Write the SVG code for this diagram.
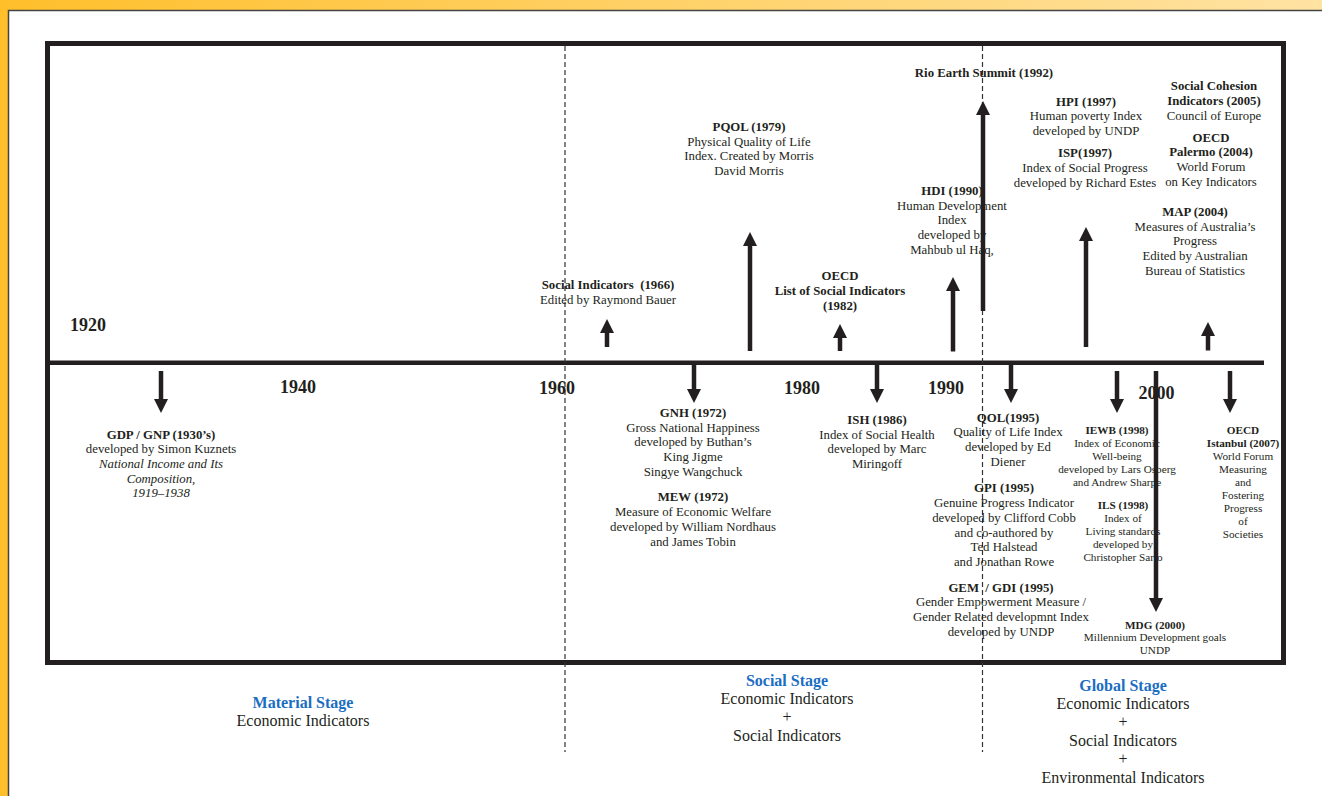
<svg xmlns="http://www.w3.org/2000/svg" width="1322" height="796" viewBox="0 0 1322 796">
<defs>
<linearGradient id="topg" x1="0" y1="0" x2="1" y2="0">
<stop offset="0" stop-color="#FFBF2B"/>
<stop offset="1" stop-color="#FFE3A3"/>
</linearGradient>
<marker id="ah" markerUnits="userSpaceOnUse" markerWidth="14" markerHeight="14" viewBox="0 0 14 14" refX="0" refY="7" orient="auto">
<path d="M0,0 L14,7 L0,14 z" fill="#231f20"/>
</marker>
<style>
.t{font-family:"Liberation Serif","Times New Roman",serif;font-size:12.8px;fill:#231f20;text-anchor:middle}
.b{font-weight:bold}
.s{font-size:11.2px}
.i{font-style:italic}
.yr{font-size:18px;font-weight:bold}
.st{font-size:16px}
.blue{fill:#1b6ec2;font-weight:bold}
.ar{stroke:#231f20;stroke-width:4.5;fill:none;marker-end:url(#ah)}
.dash{stroke:#333;stroke-width:1.2;stroke-dasharray:5 3;fill:none}
</style>
</defs>
<rect x="0" y="0" width="1322" height="796" fill="#ffffff"/>
<rect x="0" y="0" width="1322" height="10" fill="url(#topg)"/>
<rect x="0" y="0" width="8" height="796" fill="#FFBF2B"/>
<path d="M8.5,796 V10.5 H1322" fill="none" stroke="#444" stroke-width="1.5"/>

<g id="frame">
<rect x="47.5" y="43.5" width="1236" height="619" fill="none" stroke="#231f20" stroke-width="5"/>
<line x1="47" y1="362.8" x2="1264" y2="362.8" stroke="#231f20" stroke-width="4.6"/>
<line class="dash" x1="565" y1="46" x2="565" y2="752"/>
<line class="dash" x1="982.5" y1="46" x2="982.5" y2="752"/>
</g>

<g id="years">
<text class="t yr" x="88" y="331">1920</text>
<text class="t yr" x="298" y="393">1940</text>
<text class="t yr" x="557" y="394">1960</text>
<text class="t yr" x="802" y="394">1980</text>
<text class="t yr" x="946" y="394">1990</text>
<text class="t yr" x="1156.5" y="399">2000</text>
</g>

<g id="gdp">
<text class="t b" x="161" y="439">GDP / GNP (1930’s)</text>
<text class="t" x="161" y="453">developed by Simon Kuznets</text>
<text class="t i" x="161" y="468">National Income and Its</text>
<text class="t i" x="161" y="483">Composition,</text>
<text class="t i" x="161" y="497">1919–1938</text>
</g>

<g id="social-indicators-1966">
<text class="t b" x="608" y="289">Social Indicators&#160; (1966)</text>
<text class="t" x="608" y="304">Edited by Raymond Bauer</text>
</g>

<g id="pqol">
<text class="t b" x="749" y="131">PQOL (1979)</text>
<text class="t" x="749" y="146">Physical Quality of Life</text>
<text class="t" x="749" y="160">Index. Created by Morris</text>
<text class="t" x="749" y="175">David Morris</text>
</g>

<g id="oecd-1982">
<text class="t b" x="840" y="280">OECD</text>
<text class="t b" x="840" y="295">List of Social Indicators</text>
<text class="t b" x="840" y="310">(1982)</text>
</g>

<g id="rio">
<text class="t b" x="984" y="77">Rio Earth Summit (1992)</text>
</g>

<g id="hdi">
<text class="t b" x="952" y="195">HDI (1990)</text>
<text class="t" x="952" y="209.5">Human Development</text>
<text class="t" x="952" y="224">Index</text>
<text class="t" x="952" y="239">developed by</text>
<text class="t" x="952" y="254">Mahbub ul Haq,</text>
</g>

<g id="hpi-isp">
<text class="t b" x="1086" y="106">HPI (1997)</text>
<text class="t" x="1086" y="120">Human poverty Index</text>
<text class="t" x="1086" y="135">developed by UNDP</text>
<text class="t b" x="1085" y="157">ISP(1997)</text>
<text class="t" x="1085" y="172">Index of Social Progress</text>
<text class="t" x="1085" y="187">developed by Richard Estes</text>
</g>

<g id="social-cohesion">
<text class="t b" x="1214" y="90">Social Cohesion</text>
<text class="t b" x="1214" y="105">Indicators (2005)</text>
<text class="t" x="1214" y="120">Council of Europe</text>
</g>

<g id="oecd-palermo">
<text class="t b" x="1211" y="142">OECD</text>
<text class="t b" x="1211" y="156">Palermo (2004)</text>
<text class="t" x="1211" y="171">World Forum</text>
<text class="t" x="1211" y="186">on Key Indicators</text>
</g>

<g id="map">
<text class="t b" x="1195" y="216">MAP (2004)</text>
<text class="t" x="1195" y="231">Measures of Australia’s</text>
<text class="t" x="1195" y="245">Progress</text>
<text class="t" x="1195" y="260">Edited by Australian</text>
<text class="t" x="1195" y="275">Bureau of Statistics</text>
</g>

<g id="gnh-mew">
<text class="t b" x="693" y="417">GNH (1972)</text>
<text class="t" x="693" y="432">Gross National Happiness</text>
<text class="t" x="693" y="446">developed by Buthan’s</text>
<text class="t" x="693" y="461">King Jigme</text>
<text class="t" x="693" y="476">Singye Wangchuck</text>
<text class="t b" x="693" y="501">MEW (1972)</text>
<text class="t" x="693" y="516">Measure of Economic Welfare</text>
<text class="t" x="693" y="531">developed by William Nordhaus</text>
<text class="t" x="693" y="546">and James Tobin</text>
</g>

<g id="ish">
<text class="t b" x="877" y="424">ISH (1986)</text>
<text class="t" x="877" y="439">Index of Social Health</text>
<text class="t" x="877" y="453">developed by Marc</text>
<text class="t" x="877" y="468">Miringoff</text>
</g>

<g id="qol-gpi-gem">
<text class="t b" x="1008" y="422">QOL(1995)</text>
<text class="t" x="1008" y="436">Quality of Life Index</text>
<text class="t" x="1008" y="451">developed by Ed</text>
<text class="t" x="1008" y="466">Diener</text>
<text class="t b" x="1004" y="492">GPI (1995)</text>
<text class="t" x="1004" y="507">Genuine Progress Indicator</text>
<text class="t" x="1004" y="522">developed by Clifford Cobb</text>
<text class="t" x="1004" y="537">and co-authored by</text>
<text class="t" x="1004" y="551">Ted Halstead</text>
<text class="t" x="1004" y="566">and Jonathan Rowe</text>
<text class="t b" x="1001" y="592">GEM&#160; / GDI (1995)</text>
<text class="t" x="1001" y="606">Gender Empowerment Measure /</text>
<text class="t" x="1001" y="621">Gender Related developmnt Index</text>
<text class="t" x="1001" y="636">developed by UNDP</text>
</g>

<g id="iewb-ils">
<text class="t s b" x="1117" y="434">IEWB (1998)</text>
<text class="t s" x="1117" y="447">Index of Economic</text>
<text class="t s" x="1117" y="460">Well-being</text>
<text class="t s" x="1117" y="473">developed by Lars Osberg</text>
<text class="t s" x="1117" y="486">and Andrew Sharpe</text>
<text class="t s b" x="1123" y="509">ILS (1998)</text>
<text class="t s" x="1123" y="522">Index of</text>
<text class="t s" x="1123" y="535">Living standards</text>
<text class="t s" x="1123" y="548">developed by</text>
<text class="t s" x="1123" y="561">Christopher Sarlo</text>
</g>

<g id="mdg">
<text class="t s b" x="1155" y="629">MDG (2000)</text>
<text class="t s" x="1155" y="641">Millennium Development goals</text>
<text class="t s" x="1155" y="654">UNDP</text>
</g>

<g id="oecd-istanbul">
<text class="t s b" x="1243" y="434">OECD</text>
<text class="t s b" x="1243" y="447">Istanbul (2007)</text>
<text class="t s" x="1243" y="460">World Forum</text>
<text class="t s" x="1243" y="473">Measuring</text>
<text class="t s" x="1243" y="486">and</text>
<text class="t s" x="1243" y="499">Fostering</text>
<text class="t s" x="1243" y="512">Progress</text>
<text class="t s" x="1243" y="525">of</text>
<text class="t s" x="1243" y="538">Societies</text>
</g>

<g id="connectors">
<line class="ar" x1="607" y1="347" x2="607" y2="333"/>
<line class="ar" x1="750" y1="351" x2="750" y2="246"/>
<line class="ar" x1="840" y1="351" x2="840" y2="338"/>
<line class="ar" x1="953" y1="351.5" x2="953" y2="291"/>
<line class="ar" x1="983" y1="311" x2="983" y2="115"/>
<line class="ar" x1="1086" y1="347" x2="1086" y2="241"/>
<line class="ar" x1="1208" y1="350.5" x2="1208" y2="336"/>
<line class="ar" x1="161" y1="371" x2="161" y2="399"/>
<line class="ar" x1="694" y1="364" x2="694" y2="389"/>
<line class="ar" x1="877" y1="364" x2="877" y2="389"/>
<line class="ar" x1="1011" y1="364" x2="1011" y2="389"/>
<line class="ar" x1="1117" y1="371" x2="1117" y2="399"/>
<line class="ar" x1="1156" y1="371" x2="1156" y2="598"/>
<line class="ar" x1="1230" y1="371" x2="1230" y2="399"/>
</g>

<g id="material-stage">
<text class="t st blue" x="303" y="708">Material Stage</text>
<text class="t st" x="303" y="726">Economic Indicators</text>
</g>
<g id="social-stage">
<text class="t st blue" x="787" y="686">Social Stage</text>
<text class="t st" x="787" y="704">Economic Indicators</text>
<text class="t st" x="787" y="722">+</text>
<text class="t st" x="787" y="741">Social Indicators</text>
</g>
<g id="global-stage">
<text class="t st blue" x="1123" y="691">Global Stage</text>
<text class="t st" x="1123" y="709">Economic Indicators</text>
<text class="t st" x="1123" y="727">+</text>
<text class="t st" x="1123" y="746">Social Indicators</text>
<text class="t st" x="1123" y="764">+</text>
<text class="t st" x="1123" y="783">Environmental Indicators</text>
</g>
</svg>
